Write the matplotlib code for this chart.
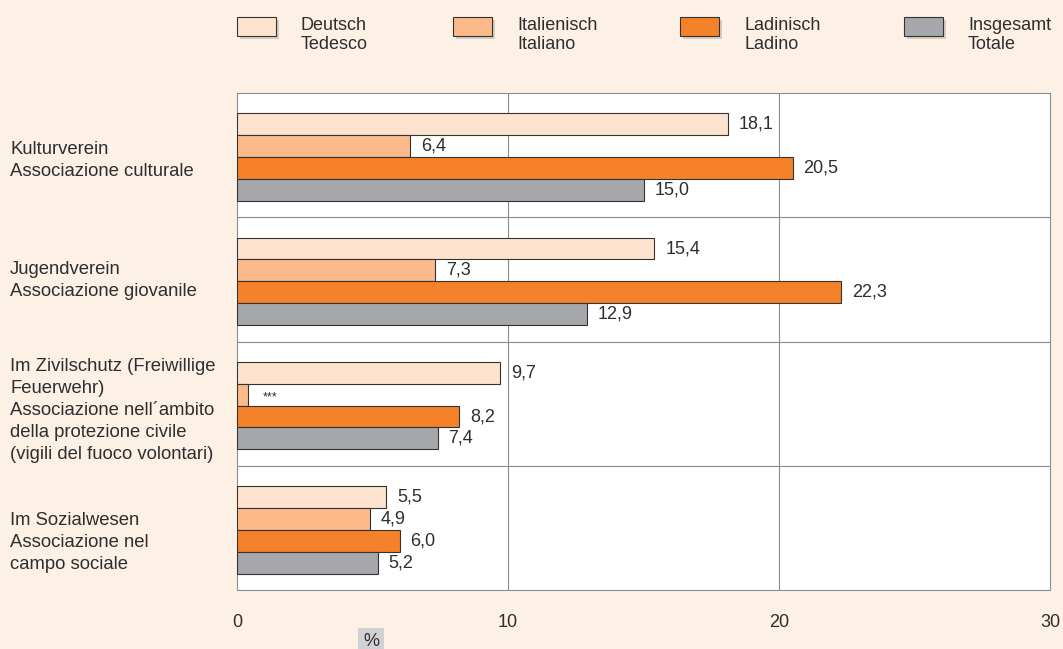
import numpy as np
import matplotlib.pyplot as plt
from matplotlib.patches import Rectangle
from matplotlib.transforms import blended_transform_factory

plt.rcParams['font.family'] = ['Liberation Sans', 'DejaVu Sans']

categories = [
    "Kulturverein\nAssociazione culturale",
    "Jugendverein\nAssociazione giovanile",
    "Im Zivilschutz (Freiwillige\nFeuerwehr)\nAssociazione nell\u00b4ambito\ndella protezione civile\n(vigili del fuoco volontari)",
    "Im Sozialwesen\nAssociazione nel\ncampo sociale",
]
series_names = ["Deutsch\nTedesco", "Italienisch\nItaliano", "Ladinisch\nLadino", "Insgesamt\nTotale"]
deutsch = [18.1, 15.4, 9.7, 5.5]
italienisch = [6.4, 7.3, 0.4, 4.9]
ladinisch = [20.5, 22.3, 8.2, 6.0]
insgesamt = [15.0, 12.9, 7.4, 5.2]
labels_it = ["6,4", "7,3", "***", "4,9"]
xticks = [0, 10, 20, 30]

colors = ["#FDE3CD", "#FCB98A", "#F5822A", "#A6A7AA"]
bg = "#FDF1E6"
txtc = "#2e2e2e"

fig = plt.figure(figsize=(10.63, 6.49), dpi=100, facecolor=bg)
ax = fig.add_axes([237 / 1063, 1 - 590 / 649, 813 / 1063, 497 / 649])
ax.set_facecolor("white")

all_series = [deutsch, italienisch, ladinisch, insgesamt]
h = 0.176
y0 = np.arange(len(categories)) + 0.016
for k, vals in enumerate(all_series):
    ypos = y0 - 1.5 * h + k * h
    ax.barh(ypos, vals, height=h, color=colors[k], edgecolor="#333333", linewidth=0.8, zorder=3)
    for i, v in enumerate(vals):
        if k == 1:
            txt = labels_it[i]
        else:
            txt = f"{v:.1f}".replace(".", ",")
        if txt == "***":
            ax.text(v + 0.55, ypos[i] + 0.02, txt, va="center", ha="left", fontsize=9, color=txtc)
        else:
            ax.text(v + 0.4, ypos[i], txt, va="center", ha="left", fontsize=13, color=txtc)

ax.set_ylim(len(categories) - 0.5, -0.5)
ax.set_xlim(0, 30)
for yy in np.arange(0.5, len(categories) - 0.5, 1):
    ax.axhline(yy, color="#8c8c8c", lw=0.8, zorder=1)
for xx in xticks[1:-1]:
    ax.axvline(xx, color="#8c8c8c", lw=0.8, zorder=1)
for s in ax.spines.values():
    s.set_color("#8c8c8c")
    s.set_linewidth(0.8)

ax.set_yticks([])
ax.set_xticks(xticks)
ax.set_xticklabels([str(t) for t in xticks], fontsize=13, color=txtc)
ax.tick_params(axis="x", length=0, pad=17)

# category labels on the left, slightly shifted down as in the original
label_shift = [0.04, 0.012, 0.056, 0.12]
trans = blended_transform_factory(fig.transFigure, ax.transData)
for i, c in enumerate(categories):
    ax.text(10 / 1063, i + label_shift[i], c, ha="left", va="center", fontsize=13.3, color=txtc,
            linespacing=1.38, transform=trans)

fig.text(371 / 1063, 1 - 642 / 649, "%", ha="center", va="center", fontsize=13, color=txtc,
         bbox=dict(boxstyle="square,pad=0.3", facecolor="#D0D1D3", edgecolor="none"))

# legend
box_x = [237, 453, 680, 904]
for k in range(4):
    x = box_x[k]
    fig.patches.append(Rectangle(((x + 3) / 1063, 1 - 39 / 649), 39 / 1063, 19 / 649,
                                 transform=fig.transFigure, facecolor="#d6ccc2", edgecolor="none"))
    fig.patches.append(Rectangle((x / 1063, 1 - 36 / 649), 39 / 1063, 19 / 649,
                                 transform=fig.transFigure, facecolor=colors[k], edgecolor="#333333", lw=0.8))
    fig.text((x + 64) / 1063, 1 - 35 / 649, series_names[k], ha="left", va="center",
             fontsize=13, color=txtc, linespacing=1.12)

fig.savefig("out.png", dpi=100, facecolor=bg)
